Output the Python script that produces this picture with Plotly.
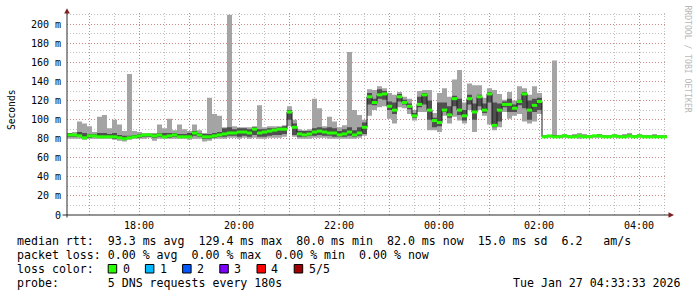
import plotly.graph_objects as go
import pandas as pd

# ---------------- data (ms) ----------------
START = "2026-01-26 16:33:33"
END = "2026-01-27 04:33:33"
STEP = "6min"

ping_min = [80, 80, 80, 79, 80, 80, 80, 80, 80, 79, 78, 77, 79, 80, 80,
            80, 81, 78, 80, 80, 80, 80, 80, 80, 79, 80, 80, 77, 78, 80,
            80, 80, 81, 81, 80, 81, 80, 81, 80, 80, 81, 81, 81, 82, 93,
            82, 80, 80, 80, 81, 81, 81, 80, 80, 80, 80, 80, 80, 81, 83,
            104, 110, 113, 114, 101, 96, 113, 112, 106, 99, 108, 108, 89, 89, 87,
            104, 96, 103, 99, 96, 110, 87, 110, 104, 95, 89, 92, 108, 101, 104,
            106, 98, 96, 98, 106,
            81, 81, 81, 81, 81, 81, 81, 80, 81, 81, 81, 81, 81, 81, 81,
            81, 81, 81, 81, 81, 81, 81, 81, 81, 81]
ping_lo = [82, 82, 82, 80, 81, 82, 81, 81, 81, 80, 80, 79, 80, 81, 81,
           82, 82, 81, 82, 81, 81, 82, 81, 81, 81, 83, 82, 80, 80, 81,
           82, 82, 83, 83, 82, 83, 82, 84, 82, 82, 83, 84, 84, 85, 100,
           84, 82, 82, 83, 83, 84, 83, 83, 82, 82, 82, 83, 82, 83, 85,
           116, 115, 122, 121, 110, 106, 119, 116, 111, 102, 113, 116, 100, 92, 93,
           108, 102, 114, 105, 99, 116, 100, 114, 107, 118, 92, 98, 113, 108, 108,
           115, 112, 100, 108, 110,
           81.5, 82, 81.5, 81.5, 82, 81.5, 81.5, 82, 81.5, 81.5, 82, 82, 81.5, 81.5, 82,
           81.5, 81.5, 82, 81.5, 82, 81.5, 81.5, 81.5, 81.5, 81.5]
median_rtt = [84, 84, 83, 81, 83, 83, 82, 82, 82, 82, 81, 80, 81, 82, 83,
              84, 84, 83, 84, 82, 83, 84, 82, 82, 82, 86, 84, 82, 82, 83,
              84, 85, 86, 86, 87, 87, 86, 90, 86, 87, 88, 89, 90, 90, 108,
              92, 85, 84, 85, 87, 88, 87, 86, 86, 84, 85, 87, 84, 86, 92,
              124, 118, 126, 127, 114, 110, 124, 118, 114, 104, 116, 126, 110, 99, 97,
              110, 105, 122, 110, 104, 122, 108, 124, 110, 127, 94, 110, 116, 116, 112,
              119, 127, 110, 115, 119,
              82, 83, 82, 82, 83, 82, 82, 83, 82, 82, 83, 83, 82, 82, 83,
              82, 82, 83, 82, 83, 82, 82, 82, 82, 82]
ping_hi = [86, 85, 87, 86, 85, 85, 86, 86, 85, 86, 84, 83, 83, 84, 85,
           85, 85, 85, 86, 86, 86, 86, 85, 85, 86, 88, 86, 85, 85, 86,
           87, 91, 92, 90, 91, 91, 90, 92, 90, 90, 91, 91, 92, 93, 110,
           96, 88, 88, 88, 91, 92, 91, 92, 91, 88, 90, 92, 89, 92, 97,
           128, 122, 132, 130, 119, 118, 127, 121, 117, 107, 124, 128, 120, 102, 118,
           118, 114, 125, 122, 110, 126, 117, 126, 117, 129, 118, 117, 119, 122, 116,
           121, 129, 120, 122, 123,
           83, 83.5, 84, 83, 84, 83, 83.5, 84, 83, 83, 84, 84.5, 83, 83, 84,
           83, 83.5, 84.5, 83, 84, 83, 83, 83.5, 83, 83]
ping_max = [86, 87, 98, 96, 93, 87, 103, 105, 91, 100, 95, 88, 148, 88, 87,
            86, 86, 86, 95, 91, 101, 89, 95, 90, 88, 95, 89, 86, 123, 106,
            104, 92, 210, 93, 92, 92, 92, 93, 115, 92, 93, 93, 93, 94, 114,
            100, 90, 89, 90, 122, 112, 93, 103, 98, 92, 94, 171, 110, 105, 100,
            132, 131, 135, 133, 128, 126, 129, 124, 122, 110, 130, 131, 131, 107, 128,
            133, 124, 142, 152, 118, 138, 136, 136, 123, 133, 131, 127, 121, 129, 120,
            135, 133, 126, 135, 128,
            84, 84, 162, 84, 85, 84, 85, 86, 85, 84, 84, 85, 84, 84, 85,
            84, 85, 86, 84, 85, 84, 84, 85, 84, 84]

hour_ticks = ["2026-01-26 17:00", "2026-01-26 18:00", "2026-01-26 19:00",
              "2026-01-26 20:00", "2026-01-26 21:00", "2026-01-26 22:00",
              "2026-01-26 23:00", "2026-01-27 00:00", "2026-01-27 01:00",
              "2026-01-27 02:00", "2026-01-27 03:00", "2026-01-27 04:00"]
hour_labels = ["", "18:00", "", "20:00", "", "22:00", "", "00:00", "",
               "02:00", "", "04:00"]
y_ticks = [0, 20, 40, 60, 80, 100, 120, 140, 160, 180, 200]
y_labels = ["0", "20 m", "40 m", "60 m", "80 m", "100 m", "120 m",
            "140 m", "160 m", "180 m", "200 m"]

legend_rows = [
    "median rtt:  93.3 ms avg  129.4 ms max  80.0 ms min  82.0 ms now  15.0 ms sd  6.2   am/s",
    "packet loss: 0.00 % avg  0.00 % max  0.00 % min  0.00 % now",
    "loss color:",
    "probe:       5 DNS requests every 180s",
]
stamp_text = "Tue Jan 27 04:33:33 2026"
loss_labels = ["0", "1", "2", "3", "4", "5/5"]
loss_colors = ["#26ff00", "#00b8ff", "#0059ff", "#7e00ff", "#ff0000", "#a00000"]
watermark = "RRDTOOL / TOBI OETIKER"

# ---------------- geometry ----------------
W, H = 697, 297
L, R, T, B = 67, 667, 13, 215
Y_TOP = 211.85


def px(x):
    return (x - L) / (R - L)


def py(y):
    return (B - y) / (B - T)


FONT = "DejaVu Sans Mono"

times = pd.date_range(START, periods=len(median_rtt), freq=STEP)
t_ext = list(times) + [pd.Timestamp(END)]
mid_times = times + pd.Timedelta(STEP) / 2


def ext(v):
    return list(v) + [v[-1]]


fig = go.Figure()
LIGHT = "#a4a4a4"
DARK = "#4f4f4f"

fig.add_trace(go.Scatter(x=t_ext, y=ext(ping_min), mode="lines",
                         line=dict(width=0, shape="hv"), hoverinfo="skip",
                         showlegend=False))
fig.add_trace(go.Scatter(x=t_ext, y=ext(ping_max), mode="lines",
                         line=dict(width=0, shape="hv"), fill="tonexty",
                         fillcolor=LIGHT, hoverinfo="skip", showlegend=False))
fig.add_trace(go.Scatter(x=t_ext, y=ext(ping_lo), mode="lines",
                         line=dict(width=0, shape="hv"), hoverinfo="skip",
                         showlegend=False))
fig.add_trace(go.Scatter(x=t_ext, y=ext(ping_hi), mode="lines",
                         line=dict(width=0, shape="hv"), fill="tonexty",
                         fillcolor=DARK, hoverinfo="skip", showlegend=False))
fig.add_trace(go.Scatter(x=t_ext, y=ext(median_rtt), mode="lines",
                         line=dict(width=1, shape="hv", color="#1a1a1a"),
                         hoverinfo="skip", showlegend=False))
fig.add_trace(go.Scatter(x=mid_times, y=median_rtt, mode="markers",
                         marker=dict(symbol="line-ew", size=3.9,
                                     line=dict(width=3, color=loss_colors[0])),
                         hoverinfo="skip", showlegend=False))

MGRID = "rgba(222,80,80,0.5)"
GRID = "rgba(130,130,130,0.5)"
DOTS = "1px,2px"

fig.update_xaxes(
    type="date", range=[START, END],
    tickmode="array", tickvals=hour_ticks, ticktext=hour_labels,
    showgrid=True, gridcolor=MGRID, griddash=DOTS, gridwidth=1,
    minor=dict(dtick=1800000, tick0="2026-01-26 16:30", showgrid=True,
               gridcolor=GRID, griddash=DOTS, gridwidth=1, ticks=""),
    ticks="", showline=False, zeroline=False, ticklabelstandoff=3,
    tickfont=dict(family=FONT, size=10, color="#000000"),
    fixedrange=True,
)
fig.update_yaxes(
    range=[0, Y_TOP],
    tickmode="array", tickvals=y_ticks, ticktext=y_labels,
    showgrid=True, gridcolor=MGRID, griddash=DOTS, gridwidth=1,
    minor=dict(dtick=10, tick0=0, showgrid=True, gridcolor=GRID,
               griddash=DOTS, gridwidth=1, ticks=""),
    ticks="", showline=False, zeroline=False, ticklabelstandoff=5,
    tickfont=dict(family=FONT, size=10, color="#000000"),
    fixedrange=True,
)

AXIS = "#2a2a2a"
ARROW = "#7f1f1f"
shapes = [
    dict(type="line", xref="paper", yref="paper", x0=px(67), x1=px(67),
         y0=py(217.5), y1=py(12), line=dict(color=AXIS, width=1)),
    dict(type="line", xref="paper", yref="paper", x0=px(62.5), x1=px(669),
         y0=py(215), y1=py(215), line=dict(color=AXIS, width=1)),
    dict(type="path", xref="paper", yref="paper",
         path=f"M {px(64.2)} {py(13.5)} L {px(69.8)} {py(13.5)} L {px(67)} {py(8.3)} Z",
         fillcolor=ARROW, line=dict(width=0)),
    dict(type="path", xref="paper", yref="paper",
         path=f"M {px(668.5)} {py(212.2)} L {px(668.5)} {py(217.8)} L {px(674)} {py(215)} Z",
         fillcolor=ARROW, line=dict(width=0)),
]

NB = "\u00a0"
LEG_SIZE = 11.6
ann = []
row_centres = [241, 255, 269, 283]
for row, yc in zip(legend_rows, row_centres):
    ann.append(dict(text=row.replace(" ", NB), xref="paper", yref="paper",
                    x=px(15.8), y=py(yc), xanchor="left", yanchor="middle",
                    showarrow=False, borderpad=0,
                    font=dict(family=FONT, size=LEG_SIZE, color="#000000")))
ann.append(dict(text=stamp_text.replace(" ", NB), xref="paper", yref="paper",
                x=px(681.5), y=py(283), xanchor="right", yanchor="middle",
                showarrow=False, borderpad=0,
                font=dict(family=FONT, size=LEG_SIZE, color="#000000")))

BOX_X0, BOX_DX = 108.2, 37.2
for k, (lab, col) in enumerate(zip(loss_labels, loss_colors)):
    x0 = BOX_X0 + k * BOX_DX
    shapes.append(dict(type="rect", xref="paper", yref="paper",
                       x0=px(x0), x1=px(x0 + 8.5), y0=py(273), y1=py(264.5),
                       fillcolor=col, line=dict(color="#000000", width=1)))
    ann.append(dict(text=lab, xref="paper", yref="paper",
                    x=px(x0 + 13.3), y=py(269), xanchor="left",
                    yanchor="middle", showarrow=False, borderpad=0,
                    font=dict(family=FONT, size=LEG_SIZE, color="#000000")))

ann.append(dict(text="Seconds", xref="paper", yref="paper", x=px(11),
                y=py(110), xanchor="center", yanchor="middle", textangle=-90,
                showarrow=False, borderpad=0,
                font=dict(family=FONT, size=9.6, color="#000000")))
ann.append(dict(text=watermark.replace(" ", NB), xref="paper", yref="paper",
                x=px(687.5), y=py(59), xanchor="center", yanchor="middle",
                textangle=90, showarrow=False, borderpad=0,
                font=dict(family=FONT, size=8.1, color="#b8b8b8")))

fig.update_layout(
    width=W, height=H,
    margin=dict(l=L, r=W - R, t=T, b=H - B, pad=0),
    paper_bgcolor="#ffffff", plot_bgcolor="#ffffff",
    showlegend=False, shapes=shapes, annotations=ann,
    font=dict(family=FONT, size=10, color="#000000"),
)

fig.write_html("out.html", config={"displayModeBar": False})
